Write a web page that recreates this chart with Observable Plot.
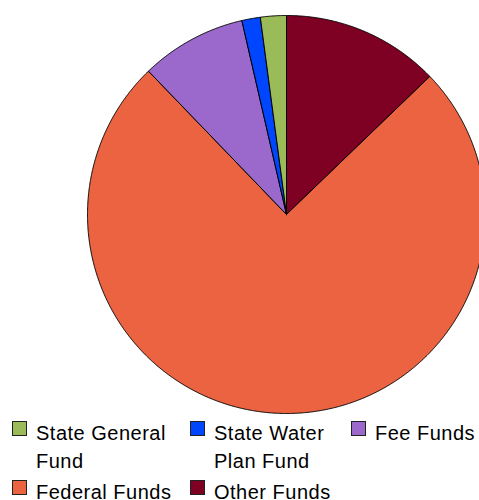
<!DOCTYPE html>
<html>
<head>
<meta charset="utf-8">
<script src="https://cdn.jsdelivr.net/npm/d3@7"></script>
<script src="https://cdn.jsdelivr.net/npm/@observablehq/plot@0.6"></script>
<style>
  body { margin: 0; background: #fff; font-family: "Liberation Sans", Arial, sans-serif; }
  #wrap { width: 479px; height: 500px; overflow: hidden; position: relative; }
  #legend { display: flex; flex-wrap: wrap; row-gap: 3px; font-size: 20px; letter-spacing: 0.5px; line-height: 28px; color: #000; }
  .item { display: flex; align-items: flex-start; box-sizing: border-box; }
  .sw { width: 15px; height: 15px; box-sizing: border-box; border: 1px solid #222; margin-top: 2px; margin-right: 9px; flex: none; }
</style>
</head>
<body>
<div id="wrap"></div>
<script>
// Data (legend order)
const categories = ["State General Fund", "State Water Plan Fund", "Fee Funds", "Federal Funds", "Other Funds"];
const shares = [2.1, 1.5, 8.6, 75.0, 12.8];
const colors = ["#9BBB59", "#0046FF", "#9B68CC", "#EC6341", "#7E0023"];

const rows = categories.map((name, i) => ({name, value: shares[i], color: colors[i]}));

// Slices run clockwise from 12 o'clock starting with the last category
const pieOrder = rows.slice().reverse();
const arcs = d3.pie().sort(null).value(d => d.value)(pieOrder);

// Build closed slice outlines (geometry only) in unit-circle coordinates
const pts = [];
for (const a of arcs) {
  const n = Math.max(2, Math.ceil((a.endAngle - a.startAngle) / (Math.PI / 720)));
  pts.push({name: a.data.name, x: 0, y: 0});
  for (let k = 0; k <= n; k++) {
    const t = a.startAngle + (a.endAngle - a.startAngle) * k / n;
    pts.push({name: a.data.name, x: Math.sin(t), y: Math.cos(t)});
  }
  pts.push({name: a.data.name, x: 0, y: 0});
}

const plot = Plot.plot({
  width: 479,
  height: 419,
  margin: 0,
  x: {domain: [-1, 1], range: [87, 485], axis: null},
  y: {domain: [-1, 1], range: [413, 15], axis: null},
  color: {domain: categories, range: colors},
  marks: [
    Plot.line(pts, {x: "x", y: "y", z: "name", fill: "name", stroke: "#000", strokeWidth: 1, strokeLinejoin: "round", curve: "linear-closed"})
  ]
});
plot.style.display = "block";
plot.style.overflow = "visible";

const wrap = document.getElementById("wrap");
wrap.appendChild(plot);

const legend = document.createElement("div");
legend.id = "legend";
const widths = [190, 161, 128, 190, 200];
rows.forEach((r, i) => {
  const it = document.createElement("div");
  it.className = "item";
  it.style.width = widths[i] + "px";
  const pad = i % 3 === 0 ? 12 : 0;
  it.style.paddingLeft = pad + "px";
  const sw = document.createElement("div");
  sw.className = "sw";
  sw.style.background = r.color;
  const tx = document.createElement("div");
  tx.textContent = r.name;
  tx.style.width = (widths[i] - 24 - pad) + "px";
  it.appendChild(sw);
  it.appendChild(tx);
  legend.appendChild(it);
});
wrap.appendChild(legend);
</script>
</body>
</html>
